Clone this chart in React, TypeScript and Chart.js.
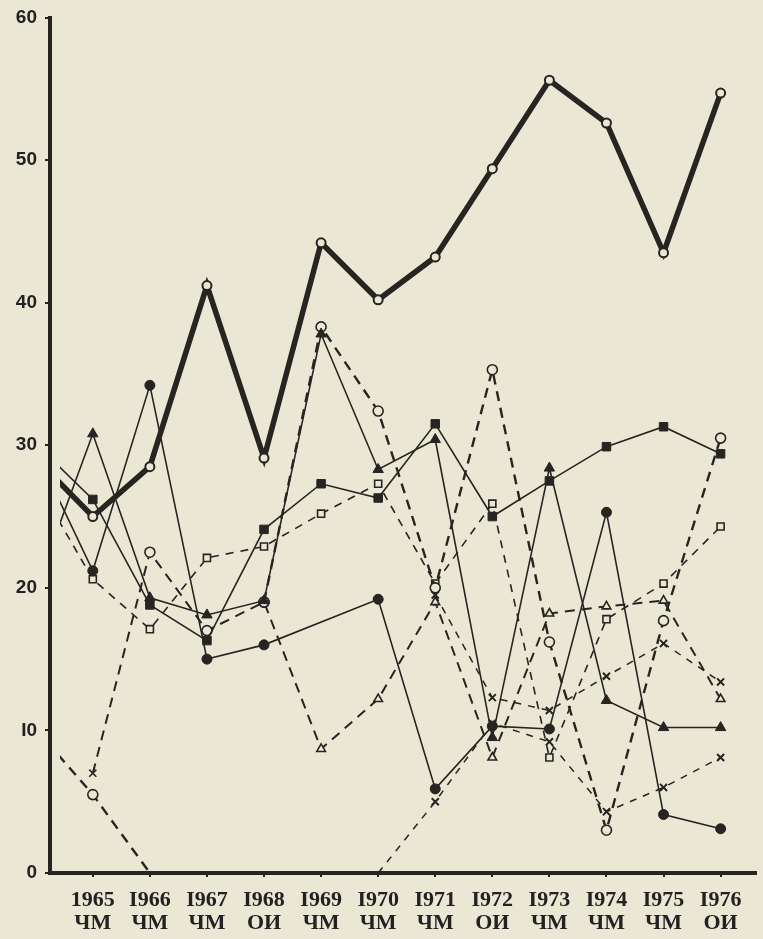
import React, { useEffect, useRef } from "react";
import { Chart, registerables } from "chart.js";

Chart.register(...registerables);

// ---- data ----
const YEARS = [1964, 1965, 1966, 1967, 1968, 1969, 1970, 1971, 1972, 1973, 1974, 1975, 1976];
const TICK_YEARS = [1965, 1966, 1967, 1968, 1969, 1970, 1971, 1972, 1973, 1974, 1975, 1976];
const YEAR_LABELS = ["1965", "I966", "I967", "I968", "I969", "I970", "I971", "I972", "I973", "I974", "I975", "I976"];
const EVENT_LABELS = ["ЧМ", "ЧМ", "ЧМ", "ОИ", "ЧМ", "ЧМ", "ЧМ", "ОИ", "ЧМ", "ЧМ", "ЧМ", "ОИ"];
const Y_TICK_VALUES = [0, 10, 20, 30, 40, 50, 60];
const Y_TICK_LABELS = ["0", "I0", "20", "30", "40", "50", "60"];

const thickOpenCircle = [29.1, 25.0, 28.5, 41.2, 29.1, 44.2, 40.2, 43.2, 49.4, 55.6, 52.6, 43.5, 54.7];
const solidSquare = [30.1, 26.2, 18.8, 16.3, 24.1, 27.3, 26.3, 31.5, 25.0, 27.5, 29.9, 31.3, 29.4];
const solidTriangle = [19.9, 30.8, 19.3, 18.1, 19.1, 37.8, 28.3, 30.4, 9.5, 28.4, 12.1, 10.2, 10.2];
const solidDot = [29.6, 21.2, 34.2, 15.0, 16.0, null, 19.2, 5.9, 10.3, 10.1, 25.3, 4.1, 3.1];
const dashedOpenCircle = [10.1, 5.5, 0, null, 19.0, 38.3, 32.4, 20.0, 35.3, 16.2, 3.0, 17.7, 30.5];
const dashedOpenSquare = [27.5, 20.6, 17.1, 22.1, 22.9, 25.2, 27.3, 20.3, 25.9, 8.1, 17.8, 20.3, 24.3];
const dashedOpenTriangle = [null, 7.0, 22.5, 17.0, 19.0, 8.7, 12.2, 19.0, 8.1, 18.2, 18.7, 19.1, 12.2];
const dashedCross = [null, null, null, null, null, null, 0.0, 5.0, 10.5, 9.2, 4.3, 6.0, 8.1];
const dashedCrossB = [null, null, null, null, null, null, null, 19.5, 12.3, 11.4, 13.8, 16.1, 13.4];

const INK = "#262522";
const PAPER = "#ebe7d5";

function pts(vals: (number | null)[]) {
  return YEARS.map((x, i) => ({ x, y: vals[i] }));
}

// hide the marker where a line just touches the zero axis
function radii(vals: (number | null)[], r: number) {
  return vals.map((v) => (v === 0 ? 0 : r));
}

export default function App() {
  const ref = useRef<HTMLCanvasElement | null>(null);

  useEffect(() => {
    if (!ref.current) return;
    const clip = { left: -10, top: 10, right: 10, bottom: 10 };
    const base = {
      borderColor: INK,
      pointBorderColor: INK,
      tension: 0,
      clip,
    };
    const chart = new Chart(ref.current, {
      type: "line",
      data: {
        datasets: [
          {
            ...base,
            label: "thickOpenCircle",
            data: pts(thickOpenCircle),
            borderWidth: 5.5,
            pointStyle: "circle",
            pointRadius: 4.5,
            pointBorderWidth: 2,
            pointBackgroundColor: PAPER,
          },
          {
            ...base,
            label: "solidSquare",
            data: pts(solidSquare),
            borderWidth: 1.6,
            pointStyle: "rect",
            pointRadius: 6,
            pointBorderWidth: 1,
            pointBackgroundColor: INK,
          },
          {
            ...base,
            label: "solidTriangle",
            data: pts(solidTriangle),
            borderWidth: 1.6,
            pointStyle: "triangle",
            pointRadius: 6,
            pointBorderWidth: 1,
            pointBackgroundColor: INK,
          },
          {
            ...base,
            label: "solidDot",
            data: pts(solidDot),
            borderWidth: 1.6,
            spanGaps: true,
            pointStyle: "circle",
            pointRadius: 5,
            pointBorderWidth: 1,
            pointBackgroundColor: INK,
          },
          {
            ...base,
            label: "dashedOpenCircle",
            data: pts(dashedOpenCircle),
            borderWidth: 2.4,
            borderDash: [10, 7],
            spanGaps: false,
            pointStyle: "circle",
            pointRadius: radii(dashedOpenCircle, 5),
            pointBorderWidth: 1.6,
            pointBackgroundColor: PAPER,
          },
          {
            ...base,
            label: "dashedOpenSquare",
            data: pts(dashedOpenSquare),
            borderWidth: 1.6,
            borderDash: [8, 7],
            pointStyle: "rect",
            pointRadius: 5,
            pointBorderWidth: 1.6,
            pointBackgroundColor: PAPER,
          },
          {
            ...base,
            label: "dashedOpenTriangle",
            data: pts(dashedOpenTriangle),
            borderWidth: 2,
            borderDash: [10, 7],
            pointStyle: ["triangle", "crossRot", "circle", "circle", "circle", "triangle", "triangle", "triangle", "triangle", "triangle", "triangle", "triangle", "triangle"],
            pointRadius: 5,
            pointBorderWidth: 1.6,
            pointBackgroundColor: PAPER,
          },
          {
            ...base,
            label: "dashedCross",
            data: pts(dashedCross),
            borderWidth: 1.5,
            borderDash: [7, 7],
            pointStyle: "crossRot",
            pointRadius: radii(dashedCross, 5),
            pointBorderWidth: 2,
            pointBackgroundColor: PAPER,
          },
          {
            ...base,
            label: "dashedCrossB",
            data: pts(dashedCrossB),
            borderWidth: 1.5,
            borderDash: [7, 7],
            pointStyle: "crossRot",
            pointRadius: 5,
            pointBorderWidth: 2,
            pointBackgroundColor: PAPER,
          },
        ],
      },
      options: {
        animation: false,
        responsive: false,
        maintainAspectRatio: false,
        layout: { padding: { top: 15, right: 0, left: 0, bottom: 0 } },
        plugins: {
          legend: { display: false },
          tooltip: { enabled: false },
        },
        scales: {
          x: {
            type: "linear",
            min: 1964.25,
            max: 1976.62,
            afterBuildTicks: (s: any) => {
              s.ticks = TICK_YEARS.map((v) => ({ value: v }));
            },
            afterFit: (s: any) => {
              s.height = 66;
            },
            border: { display: true, color: INK, width: 4 },
            grid: { display: true, drawOnChartArea: false, drawTicks: true, tickLength: 4, color: INK, lineWidth: 2 },
            ticks: {
              color: "#222",
              padding: 12,
              maxRotation: 0,
              autoSkip: false,
              font: { family: "'Liberation Serif', serif", size: 22, weight: "bold", lineHeight: 1.05 },
              callback: (v: any) => {
                const i = TICK_YEARS.indexOf(Number(v));
                return i >= 0 ? [YEAR_LABELS[i], EVENT_LABELS[i]] : "";
              },
            },
          },
          y: {
            type: "linear",
            min: 0,
            max: 60,
            afterBuildTicks: (s: any) => {
              s.ticks = Y_TICK_VALUES.map((v) => ({ value: v }));
            },
            afterFit: (s: any) => {
              s.width = 50;
            },
            border: { display: true, color: INK, width: 4 },
            grid: { display: true, drawOnChartArea: false, drawTicks: true, tickLength: 5, color: INK, lineWidth: 2 },
            ticks: {
              color: "#222",
              padding: 8,
              font: { family: "'Liberation Sans', sans-serif", size: 19, weight: "bold", lineHeight: 1.0 },
              callback: (v: any) => {
                const i = Y_TICK_VALUES.indexOf(Number(v));
                return i >= 0 ? Y_TICK_LABELS[i] : "";
              },
            },
          },
        },
      },
      plugins: [
        {
          id: "paper",
          beforeDraw: (c: any) => {
            const ctx = c.ctx;
            ctx.save();
            ctx.fillStyle = PAPER;
            ctx.fillRect(0, 0, c.width, c.height);
            ctx.restore();
          },
        },
      ],
    } as any);
    return () => chart.destroy();
  }, []);

  return (
    <div style={{ position: "fixed", left: 0, top: 0, width: 763, height: 939, background: PAPER }}>
      <canvas ref={ref} width={763} height={939} style={{ position: "absolute", left: 0, top: 0, width: 763, height: 939 }} />
    </div>
  );
}
